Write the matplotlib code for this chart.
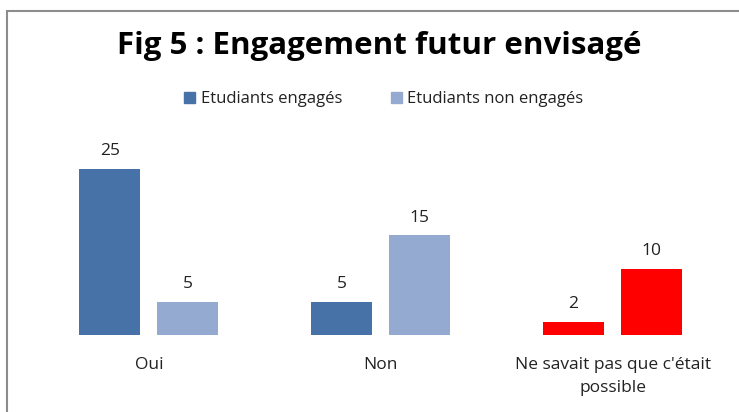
import numpy as np
import matplotlib
matplotlib.use("Agg")
import matplotlib.pyplot as plt
from matplotlib.patches import Rectangle, Patch

categories = ["Oui", "Non", "Ne savait pas que c'était\npossible"]
engages = [25, 5, 2]
non_engages = [5, 15, 10]
series_names = ["Etudiants engagés", "Etudiants non engagés"]

c_dark = "#4672A7"
c_light = "#95AAD1"
c_red = "#FF0000"

plt.rcParams['font.family'] = ['Open Sans', 'DejaVu Sans']

fig = plt.figure(figsize=(7.39, 4.12), dpi=100)
W, H = 739, 412

# outer frame (runs off the right/bottom edge)
fig.patches.append(Rectangle((7 / W, -0.05), 1.1, (H - 11) / H + 0.05,
                             transform=fig.transFigure, fill=False,
                             edgecolor="#8c8c8c", linewidth=1.5))

ax = fig.add_axes([33 / W, (H - 335) / H, (728.5 - 33) / W, (335 - 135.8) / H])
x = np.arange(len(categories))
w = 61 / 232
off = 39 / 232

cols1 = [c_dark, c_dark, c_red]
cols2 = [c_light, c_light, c_red]
b1 = ax.bar(x - off, engages, w, color=cols1)
b2 = ax.bar(x + off, non_engages, w, color=cols2)

for bars, vals in [(b1, engages), (b2, non_engages)]:
    for rect, v in zip(bars, vals):
        ax.annotate(str(v), (rect.get_x() + rect.get_width() / 2, v),
                    xytext=(0, 7), textcoords="offset points",
                    ha="center", va="bottom", fontsize=12.5, color="#222222")

ax.set_xlim(-0.5, 2.5)
ax.set_ylim(0, 30)
ax.set_xticks(x)
ax.set_xticklabels(categories, fontsize=12.5, color="#222222", linespacing=1.55)
ax.tick_params(axis="x", length=0, pad=16)
ax.set_yticks([])
for s in ax.spines.values():
    s.set_visible(False)

fig.text(379 / W, 1 - 46 / H, "Fig 5 : Engagement futur envisagé",
         ha="center", va="center", fontsize=22.5, fontweight="bold")

handles = [Patch(color=c_dark), Patch(color=c_light)]
fig.legend(handles, series_names, loc="center", bbox_to_anchor=(384 / W, 1 - 99 / H),
           ncol=2, frameon=False, fontsize=12, handlelength=0.65, handleheight=0.65,
           handletextpad=0.35, columnspacing=2.9, labelcolor="#222222")

fig.savefig("out.png", dpi=100)
